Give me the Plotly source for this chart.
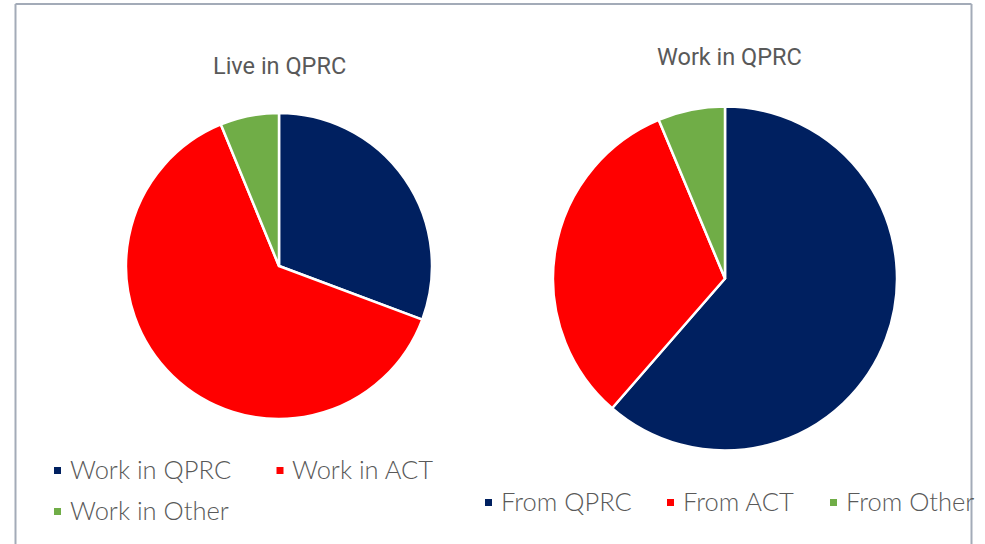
import plotly.graph_objects as go

# Live in QPRC - where residents work (%)
live_labels = ["Work in QPRC", "Work in ACT", "Work in Other"]
live_values = [30.7, 63.1, 6.2]

# Work in QPRC - where workers come from (%)
work_labels = ["From QPRC", "From ACT", "From Other"]
work_values = [61.4, 32.3, 6.3]

colors = ["#002060", "#FF0000", "#70AD47"]

W, H = 985, 544
TEXT = "#595959"
LEG_FONT = dict(family="Lato", size=25.5, color=TEXT, weight=300)
TITLE_FONT = dict(family="Roboto", size=23.5, color=TEXT)


def px_x(x):
    return x / W


def px_y(y):
    return 1 - y / H


fig = go.Figure()

fig.add_trace(go.Pie(
    labels=live_labels, values=live_values, sort=False, direction="clockwise",
    marker=dict(colors=colors, line=dict(color="white", width=2.5)),
    textinfo="none", hoverinfo="label+percent", showlegend=False,
    domain=dict(x=[px_x(126), px_x(432)], y=[px_y(419), px_y(113)]),
))

fig.add_trace(go.Pie(
    labels=work_labels, values=work_values, sort=False, direction="clockwise",
    marker=dict(colors=colors, line=dict(color="white", width=2.5)),
    textinfo="none", hoverinfo="label+percent", showlegend=False,
    domain=dict(x=[px_x(553), px_x(897)], y=[px_y(450.5), px_y(106.5)]),
))

annotations = [
    dict(text="Live in QPRC", x=px_x(279), y=px_y(66), font=TITLE_FONT),
    dict(text="Work in QPRC", x=px_x(729), y=px_y(57), font=TITLE_FONT),
]
shapes = []

# hand-built legends (square marker + label) under each pie
live_pos = [(57.5, 470.5), (280, 470.5), (57.5, 511.5)]
work_pos = [(488.5, 502.5), (670.5, 502.5), (833.5, 502.5)]
for labels, pos in [(live_labels, live_pos), (work_labels, work_pos)]:
    for lab, col, (cx, cy) in zip(labels, colors, pos):
        shapes.append(dict(type="rect", xref="paper", yref="paper",
                           x0=px_x(cx - 3.5), x1=px_x(cx + 3.5),
                           y0=px_y(cy + 3.5), y1=px_y(cy - 3.5),
                           fillcolor=col, line=dict(width=0)))
        annotations.append(dict(text=lab, x=px_x(cx + 10), y=px_y(cy - 1.5),
                                xanchor="left", font=LEG_FONT))

for a in annotations:
    a.update(xref="paper", yref="paper", showarrow=False)
    a.setdefault("xanchor", "center")
    a["yanchor"] = "middle"

# chart frame (top, left, right edges visible)
frame = dict(color="#A3ABB8", width=2)
shapes += [
    dict(type="line", xref="paper", yref="paper", x0=px_x(15.5), x1=px_x(971.5),
         y0=px_y(4), y1=px_y(4), line=frame),
    dict(type="line", xref="paper", yref="paper", x0=px_x(15.5), x1=px_x(15.5),
         y0=px_y(4), y1=px_y(548), line=frame),
    dict(type="line", xref="paper", yref="paper", x0=px_x(971.5), x1=px_x(971.5),
         y0=px_y(4), y1=px_y(548), line=frame),
]

fig.update_layout(
    width=W, height=H,
    margin=dict(l=0, r=0, t=0, b=0),
    paper_bgcolor="white", plot_bgcolor="white",
    annotations=annotations, shapes=shapes,
    showlegend=False,
)

# figure fills the window exactly, so drop the default page margin
fig.write_html("out.html", config={"displayModeBar": False},
               post_script="document.body.style.margin='0';")
